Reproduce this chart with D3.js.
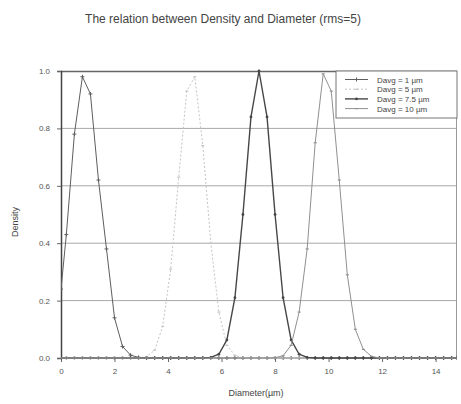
<!DOCTYPE html>
<html>
<head>
<meta charset="utf-8">
<script src="https://cdn.jsdelivr.net/npm/d3@7"></script>
<style>
  body { margin: 0; background: #fff; }
  svg { display: block; font-family: "Liberation Sans", Arial, sans-serif; }
</style>
</head>
<body>
<svg id="chart" width="461" height="404"></svg>
<script>
// sample diameters (µm)
const diameter = [0, 0.2, 0.5, 0.8, 1.1, 1.4, 1.7, 2.0, 2.3, 2.6, 2.9, 3.2, 3.5, 3.8, 4.1, 4.4, 4.7,
  5.0, 5.3, 5.6, 5.9, 6.2, 6.5, 6.8, 7.1, 7.4, 7.7, 8.0, 8.3, 8.6, 8.9, 9.2, 9.5, 9.8, 10.1, 10.4,
  10.7, 11.0, 11.3, 11.6, 11.9, 12.2, 12.5, 12.8, 13.1, 13.4, 13.7, 14.0, 14.3, 14.6, 14.8];

const davg1 = [0.24, 0.43, 0.78, 0.98, 0.92, 0.62, 0.38, 0.14, 0.04, 0.01, 0.002, 0, 0, 0, 0, 0, 0,
  0, 0, 0, 0, 0, 0, 0, 0, 0, 0, 0, 0, 0, 0, 0, 0, 0, 0, 0,
  0, 0, 0, 0, 0, 0, 0, 0, 0, 0, 0, 0, 0, 0, 0];
const davg5 = [0, 0, 0, 0, 0, 0, 0, 0, 0, 0, 0, 0.005, 0.027, 0.11, 0.31, 0.63, 0.93,
  0.98, 0.74, 0.40, 0.16, 0.044, 0.009, 0.001, 0, 0, 0, 0, 0, 0, 0, 0, 0, 0, 0, 0,
  0, 0, 0, 0, 0, 0, 0, 0, 0, 0, 0, 0, 0, 0, 0];
const davg75 = [0, 0, 0, 0, 0, 0, 0, 0, 0, 0, 0, 0, 0, 0, 0, 0, 0,
  0, 0, 0.002, 0.013, 0.063, 0.21, 0.50, 0.84, 1.0, 0.84, 0.50, 0.21, 0.063, 0.013, 0.002, 0, 0, 0, 0,
  0, 0, 0, 0, 0, 0, 0, 0, 0, 0, 0, 0, 0, 0, 0];
const davg10 = [0, 0, 0, 0, 0, 0, 0, 0, 0, 0, 0, 0, 0, 0, 0, 0, 0,
  0, 0, 0, 0, 0, 0, 0, 0, 0, 0, 0.001, 0.008, 0.044, 0.16, 0.38, 0.75, 0.99, 0.93, 0.62,
  0.29, 0.10, 0.03, 0.006, 0, 0, 0, 0, 0, 0, 0, 0, 0, 0, 0];

const seriesNames = ["Davg = 1 µm", "Davg = 5 µm", "Davg = 7.5 µm", "Davg = 10 µm"];
const xTicks = [0, 2, 4, 6, 8, 10, 12, 14];
const yTicks = [0, 0.2, 0.4, 0.6, 0.8, 1.0];

const series = [
  { name: seriesNames[0], values: davg1, color: "#5e5e5e", width: 1, dash: null, marker: "cross" },
  { name: seriesNames[1], values: davg5, color: "#c4c4c4", width: 1, dash: "2,2", marker: "dash" },
  { name: seriesNames[2], values: davg75, color: "#474747", width: 1.4, dash: null, marker: "dot" },
  { name: seriesNames[3], values: davg10, color: "#909090", width: 1, dash: null, marker: "dash" }
];

const svg = d3.select("#chart");
const margin = { top: 71, right: 4, bottom: 46, left: 61 };
const width = 461 - margin.left - margin.right;
const height = 404 - margin.top - margin.bottom;

const g = svg.append("g").attr("transform", `translate(${margin.left},${margin.top})`);

const xScale = d3.scaleLinear().domain([0, 14.8]).range([0, width]);
const yScale = d3.scaleLinear().domain([0, 1]).range([height, 0]);

// title
svg.append("text")
  .attr("x", 223)
  .attr("y", 23)
  .attr("text-anchor", "middle")
  .style("font-size", "12px")
  .style("fill", "#444")
  .text("The relation between Density and Diameter (rms=5)");

// horizontal grid
g.append("g")
  .selectAll("line")
  .data(yTicks.filter(d => d > 0 && d < 1))
  .enter()
  .append("line")
  .attr("x1", 0)
  .attr("x2", width)
  .attr("y1", d => yScale(d))
  .attr("y2", d => yScale(d))
  .style("stroke", "#a8a8a8")
  .style("stroke-width", 1);

// frame: top + right
g.append("line").attr("x1", 0).attr("x2", width).attr("y1", 0.5).attr("y2", 0.5)
  .style("stroke", "#666").style("stroke-width", 1.5);
g.append("line").attr("x1", width - 0.5).attr("x2", width - 0.5).attr("y1", 0).attr("y2", height)
  .style("stroke", "#999").style("stroke-width", 1);

// axes
const xAxis = g.append("g")
  .attr("transform", `translate(0,${height})`)
  .call(d3.axisBottom(xScale).tickValues(xTicks).tickSize(4).tickFormat(d3.format("d")));
xAxis.select(".domain").remove();
xAxis.selectAll("line").style("stroke", "#666");
xAxis.selectAll("text").style("font-size", "8px").style("fill", "#555").attr("dy", "1.1em");

const yAxis = g.append("g")
  .call(d3.axisLeft(yScale).tickValues(yTicks).tickSize(4).tickFormat(d3.format(".1f")));
yAxis.select(".domain").style("stroke", "#444").style("stroke-width", 1.5);
yAxis.selectAll("line").style("stroke", "#666");
yAxis.selectAll("text").style("font-size", "8px").style("fill", "#555").attr("x", -11);

// lines
const line = d3.line()
  .x((d, i) => xScale(diameter[i]))
  .y(d => yScale(d));

svg.append("defs").append("clipPath").attr("id", "plot-clip")
  .append("rect").attr("x", 0).attr("y", -2).attr("width", width).attr("height", height + 4);

const plot = g.append("g").attr("clip-path", "url(#plot-clip)");

function drawMarker(sel, s, px, py) {
  if (s.marker === "cross") {
    sel.append("path")
      .attr("d", `M${px - 2},${py}H${px + 2}M${px},${py - 2}V${py + 2}`)
      .style("stroke", s.color).style("stroke-width", 1);
  } else if (s.marker === "dot") {
    sel.append("circle").attr("cx", px).attr("cy", py).attr("r", 1.4).style("fill", s.color);
  } else {
    sel.append("path")
      .attr("d", `M${px - 1.5},${py}H${px + 1.5}`)
      .style("stroke", s.color).style("stroke-width", 1.2);
  }
}

series.forEach(s => {
  plot.append("path")
    .datum(s.values)
    .attr("d", line)
    .style("fill", "none")
    .style("stroke", s.color)
    .style("stroke-width", s.width)
    .style("stroke-dasharray", s.dash);
  const mg = plot.append("g");
  s.values.forEach((v, i) => drawMarker(mg, s, xScale(diameter[i]), yScale(v)));
});

// axis titles
svg.append("text")
  .attr("transform", `translate(18,222) rotate(-90)`)
  .attr("text-anchor", "middle")
  .style("font-size", "9px")
  .style("fill", "#444")
  .text("Density");

svg.append("text")
  .attr("x", 256)
  .attr("y", 396)
  .attr("text-anchor", "middle")
  .style("font-size", "9px")
  .style("fill", "#444")
  .text("Diameter(µm)");

// legend
const legend = g.append("g").attr("transform", `translate(${width - 121},0)`);
legend.append("rect")
  .attr("width", 121)
  .attr("height", 47)
  .style("fill", "#fff")
  .style("stroke", "#777")
  .style("stroke-width", 1);

series.forEach((s, i) => {
  const ly = 8.5 + i * 9.7;
  const row = legend.append("g");
  row.append("line")
    .attr("x1", 9).attr("x2", 32).attr("y1", ly).attr("y2", ly)
    .style("stroke", s.color)
    .style("stroke-width", s.width)
    .style("stroke-dasharray", s.dash);
  drawMarker(row, s, 20.5, ly);
  row.append("text")
    .attr("x", 41)
    .attr("y", ly + 3)
    .style("font-size", "8px")
    .style("fill", "#444")
    .text(s.name);
});
</script>
</body>
</html>
